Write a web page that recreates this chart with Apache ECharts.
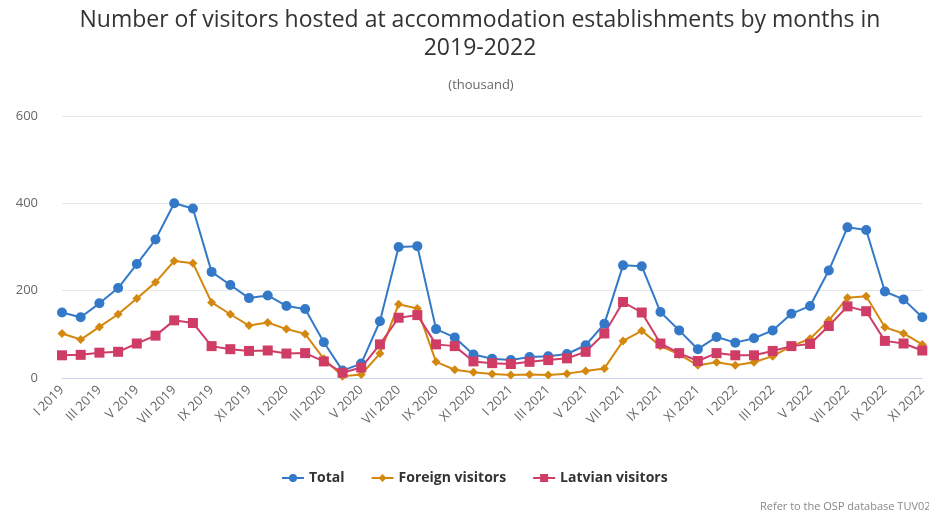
<!DOCTYPE html>
<html>
<head>
<meta charset="utf-8">
<script src="https://cdn.jsdelivr.net/npm/echarts@6/dist/echarts.min.js"></script>
<style>
  html, body { margin: 0; padding: 0; background: #fff; }
  #chart { width: 929px; height: 512px; }
</style>
</head>
<body>
<div id="chart"></div>
<script>
const roman = ['I', 'II', 'III', 'IV', 'V', 'VI', 'VII', 'VIII', 'IX', 'X', 'XI', 'XII']
const years = [2019, 2020, 2021, 2022]
const months = []
years.forEach(y => roman.forEach(m => months.push(m + ' ' + y)))
months.pop() // data ends at XI 2022

const total = [150, 139, 171, 206, 261, 317, 400, 388, 243, 213, 183, 189,
  165, 158, 82, 17, 33, 130, 300, 302, 112, 93, 54, 44,
  41, 48, 50, 55, 75, 124, 258, 256, 151, 109, 66, 94,
  81, 91, 109, 147, 165, 246, 345, 339, 198, 180, 139]
const foreign = [102, 88, 117, 146, 182, 219, 268, 263, 173, 146, 120, 127,
  112, 101, 44, 4, 8, 56, 169, 159, 37, 19, 13, 9,
  7, 8, 7, 10, 16, 22, 85, 108, 73, 54, 29, 36,
  29, 36, 50, 73, 90, 132, 184, 187, 116, 102, 77]
const latvian = [52, 53, 58, 60, 79, 97, 132, 126, 73, 66, 62, 63,
  56, 57, 38, 12, 24, 77, 138, 144, 77, 73, 38, 34,
  32, 37, 41, 45, 60, 102, 174, 150, 79, 57, 39, 57,
  52, 52, 62, 73, 78, 119, 164, 153, 85, 79, 63]

const colors = ['#3379c8', '#d5880f', '#cf3d66']

let myChart = echarts.init(document.getElementById('chart'))

function line (name, data, symbol, size, color) {
  return {
    name: name,
    type: 'line',
    data: data,
    symbol: symbol,
    symbolSize: size,
    showAllSymbol: true,
    lineStyle: { width: 2, color: color },
    itemStyle: { color: color },
    emphasis: { disabled: true }
  }
}

let option = {
  animation: false,
  textStyle: { fontFamily: 'Open Sans' },
  title: [
    {
      text: 'Number of visitors hosted at accommodation establishments by months in\n2019-2022',
      left: 475,
      top: 1,
      textAlign: 'center',
      textStyle: { fontSize: 23, fontWeight: 'normal', color: '#333', lineHeight: 28, fontFamily: 'Open Sans' }
    },
    {
      text: '(thousand)',
      left: 476,
      top: 74,
      textAlign: 'center',
      textStyle: { fontSize: 13, fontWeight: 'normal', color: '#666', fontFamily: 'Open Sans' }
    },
    {
      text: 'Refer to the OSP database TUV020',
      left: 755,
      top: 496,
      textStyle: { fontSize: 11, fontWeight: 'normal', color: '#888', fontFamily: 'Open Sans' }
    }
  ],
  legend: {
    bottom: 22,
    left: 276,
    itemGap: 26,
    itemWidth: 22,
    itemHeight: 10,
    textStyle: { fontSize: 14, color: '#333', fontWeight: 'bold', fontFamily: 'Open Sans' },
    data: ['Total', 'Foreign visitors', 'Latvian visitors']
  },
  grid: { left: 62, right: 5, top: 116, bottom: 134 },
  xAxis: {
    type: 'category',
    data: months,
    boundaryGap: false,
    axisLine: { lineStyle: { color: '#ccd6eb' } },
    axisTick: { show: false },
    axisLabel: { rotate: 45, interval: 1, color: '#666', fontSize: 13, margin: 10 }
  },
  yAxis: {
    type: 'value',
    min: 0,
    max: 600,
    interval: 200,
    axisLine: { show: false },
    axisTick: { show: false },
    axisLabel: { color: '#666', fontSize: 13, margin: 24 },
    splitLine: { lineStyle: { color: '#e6e6e6' } }
  },
  series: [
    line('Total', total, 'circle', 10, colors[0]),
    line('Foreign visitors', foreign, 'diamond', 9, colors[1]),
    line('Latvian visitors', latvian, 'rect', 10, colors[2])
  ]
}
myChart.setOption(option)
</script>
</body>
</html>
